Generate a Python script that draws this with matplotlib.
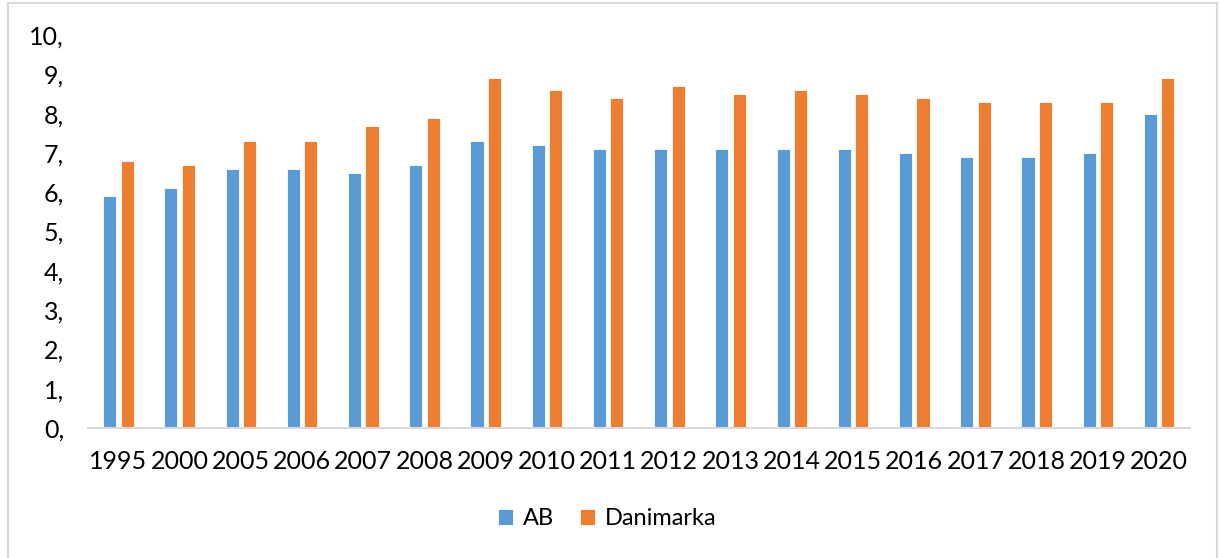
import numpy as np
import matplotlib.pyplot as plt
from matplotlib.patches import Rectangle

# veriler
years = ['1995', '2000', '2005', '2006', '2007', '2008', '2009', '2010', '2011',
         '2012', '2013', '2014', '2015', '2016', '2017', '2018', '2019', '2020']
ab = [5.9, 6.1, 6.6, 6.6, 6.5, 6.7, 7.3, 7.2, 7.1,
      7.1, 7.1, 7.1, 7.1, 7.0, 6.9, 6.9, 7.0, 8.0]
danimarka = [6.8, 6.7, 7.3, 7.3, 7.7, 7.9, 8.9, 8.6, 8.4,
             8.7, 8.5, 8.6, 8.5, 8.4, 8.3, 8.3, 8.3, 8.9]
yticks = [0, 1, 2, 3, 4, 5, 6, 7, 8, 9, 10]

plt.rcParams['font.family'] = ['Lato', 'DejaVu Sans']

fig = plt.figure(figsize=(12.19, 5.58), dpi=100)
ax = fig.add_axes([0.072, 0.233, 0.904, 0.704])

x = np.arange(len(years))
w = 0.215
ax.bar(x - w / 2 - 0.035, ab, w, color='#5b9bd5', edgecolor='white', linewidth=0.6, label='AB')
ax.bar(x + w / 2 + 0.035, danimarka, w, color='#ed7d31', edgecolor='white', linewidth=0.6, label='Danimarka')

ax.set_xlim(-0.5, len(years) - 0.5)
ax.set_ylim(0, 10)
ax.set_yticks(yticks)
ax.set_yticklabels([f'{v},' for v in yticks], fontsize=18)
ax.set_xticks(x)
ax.set_xticklabels(years, fontsize=18)
ax.tick_params(axis='both', length=0)
ax.tick_params(axis='x', pad=16)
ax.tick_params(axis='y', pad=17)

for s in ['top', 'right', 'left']:
    ax.spines[s].set_visible(False)
ax.spines['bottom'].set_color('#d9d9d9')
ax.spines['bottom'].set_linewidth(1.5)

fig.legend(loc='center', bbox_to_anchor=(0.498, 0.07), ncol=2, frameon=False,
           fontsize=17, handlelength=0.65, handleheight=0.65, handletextpad=0.4,
           columnspacing=1.1)

# dış çerçeve
fig.add_artist(Rectangle((0.0066, -0.01), 0.9918, 1.0046, transform=fig.transFigure,
                         fill=False, edgecolor='#d9d9d9', linewidth=1.5))

fig.savefig('out.png', dpi=100)
